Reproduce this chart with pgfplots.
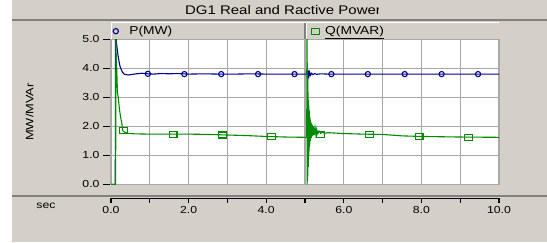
\documentclass[border=0pt]{standalone}
\usepackage{pgfplots}
\pgfplotsset{compat=1.18}
\usepackage{fontspec}
\setmainfont{Liberation Sans}
\definecolor{bg}{HTML}{D4D0C8}
\definecolor{pblue}{HTML}{00008B}
\definecolor{qgreen}{HTML}{008A00}
\definecolor{gridc}{HTML}{A8A8A8}
\definecolor{dgray}{HTML}{808080}
\newcommand\sx[1]{\scalebox{1.2}[1]{#1}}
\begin{document}
\begin{tikzpicture}[x=1pt,y=1pt]
\fill[white] (0,0) rectangle (547,242);
\fill[bg] (12,0) rectangle (547,242);
\draw[dgray, line width=1.6pt] (12,222) -- (547,222);
\begin{scope}
\clip (12,223) rectangle (378.5,242);
\node[font=\fontsize{12.5}{14}\selectfont] at (283,231.5) {\sx{DG1 Real and Ractive Power}};
\end{scope}
% legend bar
\fill[bg] (111,202.7) rectangle (499,219.3);
\draw[white, line width=1.2pt] (111.5,202.7) -- (111.5,219.3) -- (499,219.3);
\draw[dgray, line width=1.5pt] (305,202.7) -- (305,219.3);
\draw[white, line width=0.8pt] (306.5,202.7) -- (306.5,219.3);
% separator below plot
\draw[dgray, line width=2pt] (12,46.3) -- (547,46.3);
\node[font=\fontsize{10.2}{12}\selectfont] at (46,36) {\sx{sec}};
\node[font=\fontsize{10.7}{12}\selectfont, rotate=90] at (29.5,130) {\sx{MW/MVAr}};

\begin{axis}[at={(111pt,57.7pt)}, anchor=south west, scale only axis,
  width=388pt, height=145pt, xmin=0, xmax=10, ymin=0, ymax=5,
  axis background/.style={fill=white},
  axis line style={gridc, line width=1.3pt},
  xtick={0,...,10}, xticklabels={}, x tick style={draw=none},
  ytick={0,...,5}, ytick pos=left, tick align=outside,
  major tick length=8pt, y tick style={black, line width=1.2pt},
  yticklabel={\sx{\pgfmathprintnumber[fixed,fixed zerofill,precision=1,assume math mode=true]{\tick}}},
  yticklabel style={font=\fontsize{10.2}{12}\selectfont},
  grid=major, grid style={gridc, line width=1.3pt},
  legend style={at={(axis description cs:0,1)}, anchor=south west, draw=none, fill=none,
    legend columns=2, inner sep=0pt, yshift=1pt, xshift=2pt,
    font=\fontsize{11.5}{13}\selectfont, cells={anchor=west}},
  legend image code/.code={\draw[#1] plot coordinates {(3pt,0pt)};},
]
\addplot[pblue, line width=1.1pt, forget plot] coordinates {
(0,0) (0.11,0) (0.115,5.3) (0.134,4.98) (0.17,4.55) (0.20,4.29) (0.23,4.08) (0.26,3.97)
(0.30,3.86) (0.35,3.79) (0.45,3.77) (0.55,3.79) (0.65,3.81) (0.8,3.83) (0.95,3.81)
(1.1,3.8) (1.3,3.82) (1.5,3.81) (1.7,3.82) (2.0,3.8) (2.4,3.81) (2.8,3.8) (3.2,3.8)
(3.6,3.81) (4.0,3.8) (4.5,3.8) (5.0,3.8) (5.04,3.8) (5.05,3.96) (5.06,3.65) (5.07,3.94)
(5.08,3.68) (5.09,3.92) (5.10,3.72) (5.12,3.86) (5.14,3.76) (5.17,3.83) (5.2,3.78)
(5.25,3.82) (5.3,3.79) (5.4,3.81) (5.6,3.8) (6,3.8) (7,3.8) (8,3.8) (9,3.8) (10,3.8)};
\addplot[qgreen, line width=1.1pt, forget plot] coordinates {
(0,0) (0.12,0) (0.125,5.3) (0.13,4.65) (0.15,3.9) (0.165,3.2) (0.19,2.95) (0.22,2.56)
(0.25,2.3) (0.28,2.1) (0.30,1.85) (0.35,1.8) (0.42,1.76) (0.6,1.74) (1.0,1.73) (1.5,1.73)
(2.0,1.73) (2.5,1.72) (3.0,1.7) (3.5,1.68) (4.0,1.65) (4.5,1.63) (5.0,1.62) (5.045,1.62)
(5.05,5.3) (5.055,0.0) (5.06,4.2) (5.065,0.1) (5.07,3.6) (5.075,0.3) (5.08,3.2) (5.085,0.6)
(5.09,2.9) (5.095,0.9) (5.10,2.7) (5.105,1.15) (5.11,2.55) (5.115,1.3) (5.12,2.4) (5.125,1.4)
(5.13,2.3) (5.135,1.5) (5.14,2.2) (5.145,1.55) (5.15,2.15) (5.16,1.6) (5.17,2.1) (5.18,1.65)
(5.19,2.05) (5.20,1.68) (5.22,2.0) (5.24,1.7) (5.26,1.95) (5.28,1.72) (5.30,1.9) (5.33,1.74)
(5.36,1.84) (5.4,1.76) (5.45,1.8) (5.5,1.76) (5.6,1.78) (6.0,1.75) (6.5,1.73) (7.0,1.72)
(7.5,1.67) (8.0,1.65) (8.5,1.64) (9,1.63) (10,1.62)};
\addplot[pblue, only marks, mark=o, mark size=2.6pt, line width=1.1pt] coordinates {
(0.95,3.81) (1.89,3.8) (2.84,3.8) (3.79,3.8) (4.73,3.8) (5.68,3.8) (6.62,3.8) (7.57,3.8) (8.52,3.8) (9.46,3.8)};
\addlegendentry{\makebox[189pt][l]{\hspace{9pt}\sx{P(MW)}}}
\addplot[qgreen, only marks, mark=square, mark size=3pt, mark options={xscale=1.3}, line width=1.1pt] coordinates {
(0.33,1.85) (1.60,1.73) (2.87,1.7) (4.14,1.64) (5.40,1.72) (6.67,1.72) (7.94,1.65) (9.21,1.61)};
\addlegendentry{\hspace{4pt}\sx{\underline{Q(MVAR)}}}
\end{axis}

\begin{axis}[at={(111pt,43.7pt)}, anchor=south west, scale only axis,
  width=388pt, height=1pt, xmin=0, xmax=10, ymin=0, ymax=1,
  axis x line*=bottom, hide y axis,
  axis line style={black, line width=1.5pt, -},
  xtick={0,2,...,10}, minor xtick={1,3,...,9}, tick align=outside,
  major tick length=4.5pt, minor tick length=4.5pt,
  every tick/.style={black, line width=1.1pt},
  xticklabel={\sx{\pgfmathprintnumber[fixed,fixed zerofill,precision=1,assume math mode=true]{\tick}}},
  xticklabel style={font=\fontsize{10.2}{12}\selectfont},
]
\end{axis}
\pgfresetboundingbox
\useasboundingbox (0,0) rectangle (547,242);
\end{tikzpicture}
\end{document}
